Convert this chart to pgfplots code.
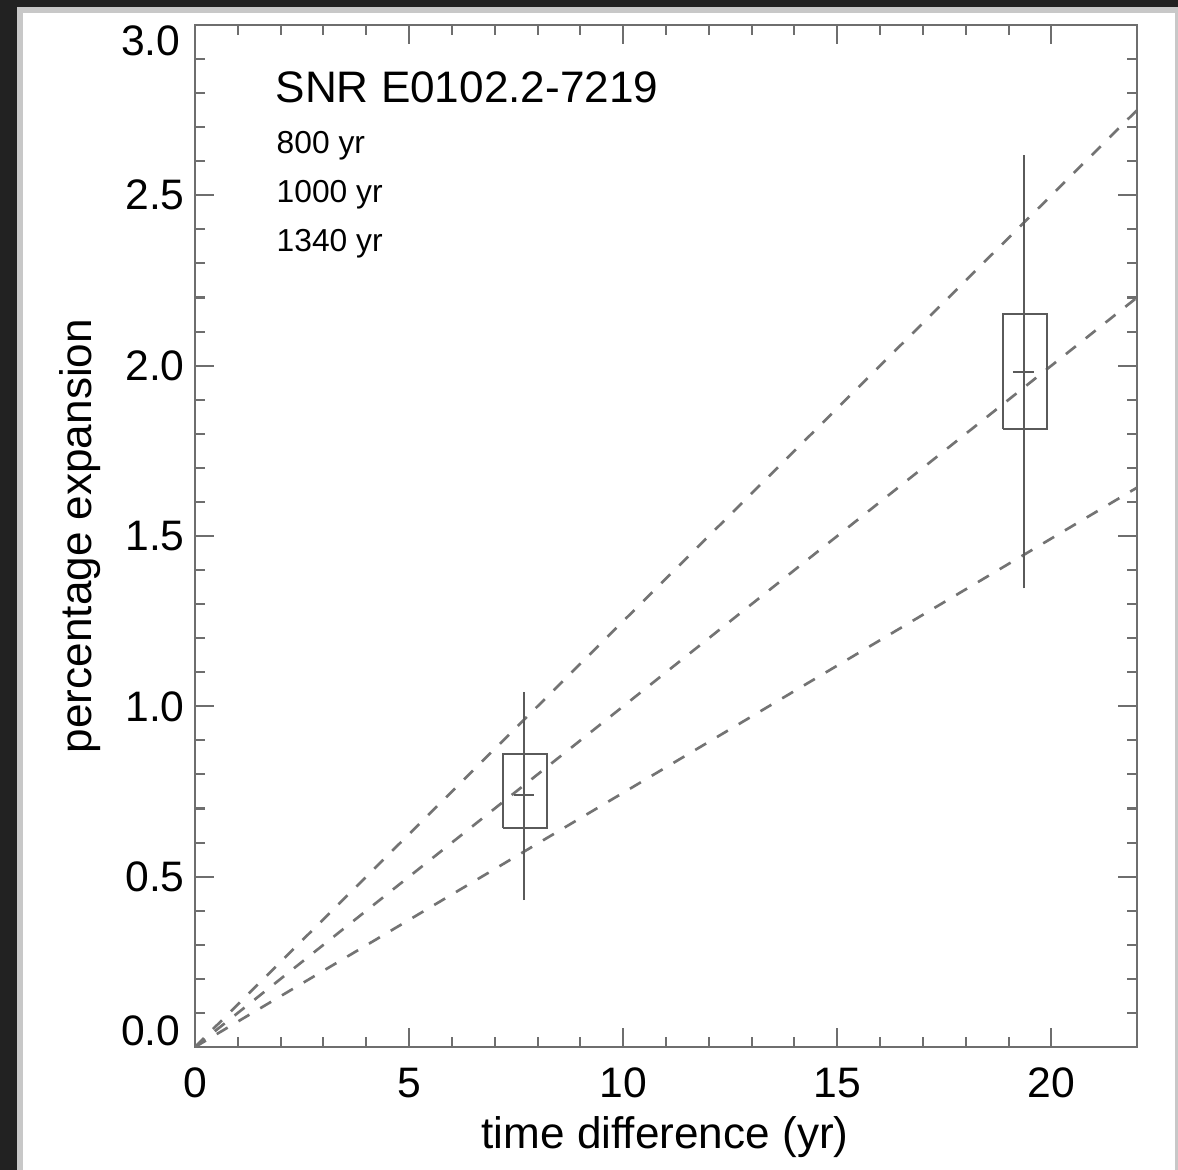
\documentclass[border=0pt]{standalone}
\usepackage{fontspec}
\setmainfont{Liberation Sans}
\usepackage{pgfplots}
\pgfplotsset{compat=1.18}
\definecolor{frame}{RGB}{34,34,34}
\definecolor{edge}{RGB}{200,200,200}
\definecolor{axgray}{RGB}{110,110,110}
\definecolor{dgray}{RGB}{115,115,115}
\definecolor{bgray}{RGB}{90,90,90}
\begin{document}
\begin{tikzpicture}
\path[use as bounding box] (-66.3pt,-41.82pt) rectangle (334.22pt,355.98pt);
\fill[frame] (-66.3pt,-41.82pt) rectangle (334.22pt,355.98pt);
\fill[edge] (-60.52pt,-41.82pt) rectangle (334.22pt,353.6pt);
\fill[white] (-58.48pt,-41.82pt) rectangle (333.2pt,351.56pt);
\begin{axis}[
  at={(0,0)}, anchor=south west,
  scale only axis, width=320.28pt, height=347.48pt,
  xmin=0, xmax=22, ymin=0, ymax=3,
  xtick={0,5,10,15,20}, minor x tick num=4,
  ytick={0,0.5,1,1.5,2,2.5,3}, minor y tick num=4,
  yticklabels={,0.5,1.0,1.5,2.0,2.5,},
  tick align=inside,
  major tick length=6.5pt, minor tick length=3.4pt,
  axis line style={axgray, line width=0.7pt},
  every tick/.style={axgray, line width=0.7pt},
  /pgf/number format/assume math mode=true,
  ticklabel style={font=\fontsize{14.5}{16}\selectfont},
  xticklabel style={yshift=-3.6pt},
  xlabel={time difference (yr)},
  ylabel={percentage expansion},
  label style={font=\fontsize{15}{17}\selectfont},
  xlabel style={at={(axis description cs:0.499,-0.088)}, anchor=center},
  ylabel style={at={(axis description cs:-0.122,0.5)}, anchor=center},
  clip=true,
]
% model lines for ages 800, 1000, 1340 yr
\addplot[dgray, line width=0.9pt, dash pattern=on 4.3pt off 4.3pt] coordinates {(0,0) (22,2.75)};
\addplot[dgray, line width=0.9pt, dash pattern=on 4.3pt off 4.3pt] coordinates {(0,0) (22,2.2)};
\addplot[dgray, line width=0.9pt, dash pattern=on 4.3pt off 4.3pt] coordinates {(0,0) (22,1.642)};
% measurement 1
\addplot[bgray, line width=0.7pt] coordinates {(7.19,0.642) (8.21,0.642) (8.21,0.859) (7.19,0.859) (7.19,0.642)};
\addplot[bgray, line width=0.7pt] coordinates {(7.68,0.431) (7.68,1.043)};
\addplot[bgray, line width=0.7pt] coordinates {(7.45,0.740) (7.92,0.740)};
% measurement 2
\addplot[bgray, line width=0.7pt] coordinates {(18.87,1.813) (19.89,1.813) (19.89,2.153) (18.87,2.153) (18.87,1.813)};
\addplot[bgray, line width=0.7pt] coordinates {(19.35,1.346) (19.35,2.618)};
\addplot[bgray, line width=0.7pt] coordinates {(19.10,1.980) (19.60,1.980)};
% texts
\node[anchor=base west, inner sep=0, font=\fontsize{15}{17}\selectfont] at (axis cs:1.87,2.771) {SNR E0102.2-7219};
\node[anchor=base west, inner sep=0, font=\fontsize{10.8}{12}\selectfont] at (axis cs:1.895,2.624) {800 yr};
\node[anchor=base west, inner sep=0, font=\fontsize{10.8}{12}\selectfont] at (axis cs:1.895,2.48) {1000 yr};
\node[anchor=base west, inner sep=0, font=\fontsize{10.8}{12}\selectfont] at (axis cs:1.895,2.336) {1340 yr};
\end{axis}
\node[anchor=north east, inner sep=0, font=\fontsize{14.5}{16}\selectfont] at (-4.76pt,347.48pt) {3.0};
\node[anchor=south east, inner sep=0, font=\fontsize{14.5}{16}\selectfont] at (-4.76pt,0pt) {0.0};
\end{tikzpicture}
\end{document}
